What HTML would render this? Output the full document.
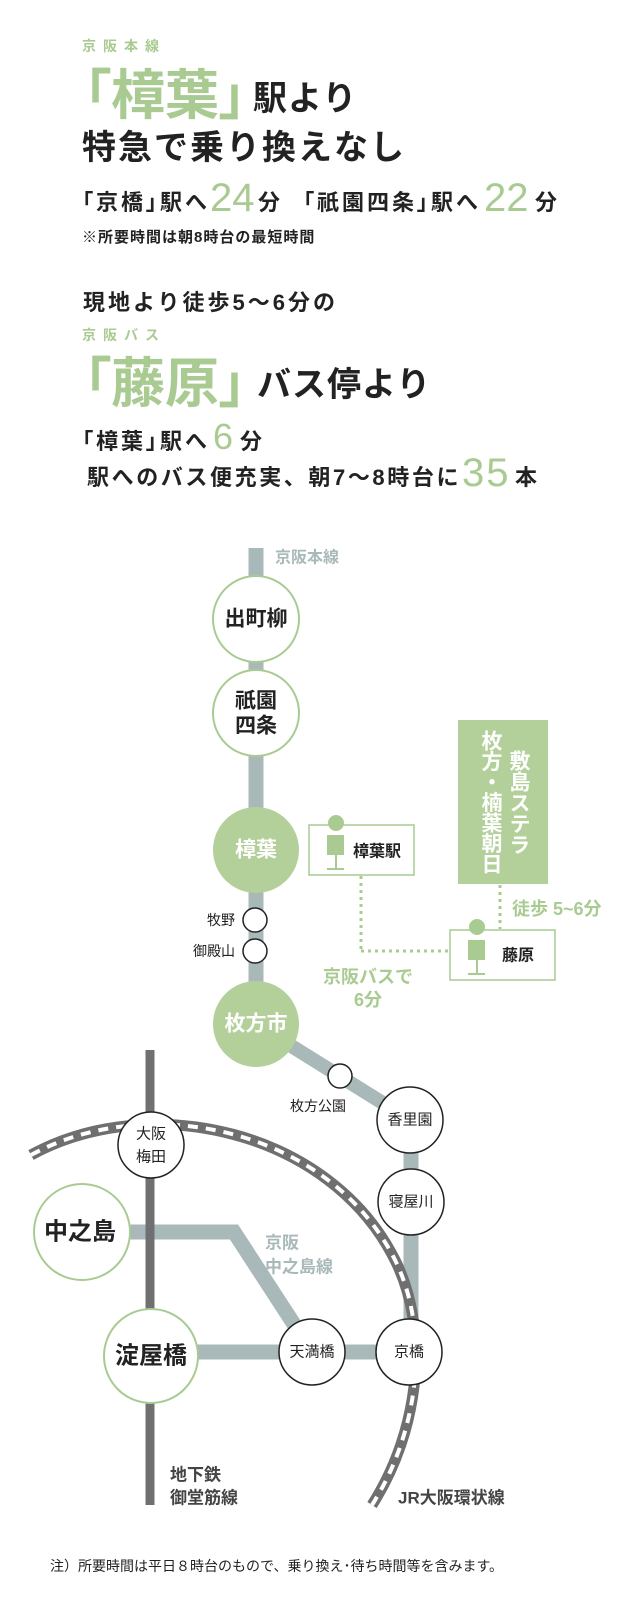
<!DOCTYPE html>
<html><head><meta charset="utf-8">
<style>
html,body{margin:0;padding:0;background:#fff;}
body{width:641px;height:1610px;position:relative;overflow:hidden;font-family:"Liberation Sans","Noto Sans CJK JP",sans-serif;color:#222;}
.a{position:absolute;white-space:nowrap;line-height:1;font-weight:bold;}
.g{color:#a9cb92;}
.p{font-feature-settings:"palt";}
.num{font-family:"Liberation Sans","Noto Sans CJK JP",sans-serif;font-weight:normal;color:#a9cb92;}
svg{position:absolute;left:0;top:0;}
</style></head><body>
<div class="a g" style="left:82px;top:39px;font-size:14px;letter-spacing:7px;">京阪本線</div>
<div class="a g p" style="left:84px;top:64px;font-size:54px;font-family:'Noto Sans CJK JP',sans-serif;">「樟葉」</div>
<div class="a" style="left:253px;top:82px;font-size:34px;letter-spacing:1px;">駅より</div>
<div class="a" style="left:82px;top:131px;font-size:34px;letter-spacing:2px;">特急で乗り換えなし</div>

<div class="a p" style="left:82px;top:192px;font-size:22px;letter-spacing:3px;">「京橋」駅へ</div>
<div class="a num" style="left:210px;top:178px;font-size:40px;">24</div>
<div class="a" style="left:258px;top:192px;font-size:22px;">分</div>
<div class="a p" style="left:303px;top:192px;font-size:22px;letter-spacing:3px;">「祇園四条」駅へ</div>
<div class="a num" style="left:484px;top:178px;font-size:40px;">22</div>
<div class="a" style="left:535px;top:192px;font-size:22px;">分</div>
<div class="a" style="left:82px;top:230px;font-size:15px;letter-spacing:1px;">※所要時間は朝8時台の最短時間</div>

<div class="a" style="left:83px;top:292px;font-size:22px;letter-spacing:3px;">現地より徒歩5〜6分の</div>
<div class="a g" style="left:82px;top:328px;font-size:14px;letter-spacing:7px;">京阪バス</div>
<div class="a g p" style="left:84px;top:352px;font-size:54px;font-family:'Noto Sans CJK JP',sans-serif;">「藤原」</div>
<div class="a" style="left:257px;top:368px;font-size:34px;letter-spacing:1px;">バス停より</div>

<div class="a p" style="left:82px;top:431px;font-size:22px;letter-spacing:3px;">「樟葉」駅へ</div>
<div class="a num" style="left:213px;top:419px;font-size:36px;">6</div>
<div class="a" style="left:240px;top:431px;font-size:22px;">分</div>
<div class="a" style="left:87px;top:467px;font-size:22px;letter-spacing:2.6px;">駅へのバス便充実、朝7〜8時台に</div>
<div class="a num" style="left:462px;top:453px;font-size:40px;letter-spacing:2px;">35</div>
<div class="a" style="left:515px;top:467px;font-size:22px;">本</div>

<svg width="641" height="1610" viewBox="0 0 641 1610" font-family="Liberation Sans, Noto Sans CJK JP, sans-serif">
  <line x1="256" y1="548" x2="256" y2="1024" stroke="#a9b8b8" stroke-width="15"/>
  <line x1="256" y1="1024" x2="410" y2="1120" stroke="#a9b8b8" stroke-width="14"/>
  <line x1="411" y1="1120" x2="411" y2="1352" stroke="#a9b8b8" stroke-width="15"/>
  <polyline points="82,1232 234,1232 312,1352" fill="none" stroke="#a9b8b8" stroke-width="15"/>
  <line x1="151" y1="1352" x2="409" y2="1352" stroke="#a9b8b8" stroke-width="15"/>
  <line x1="150" y1="1050" x2="150" y2="1505" stroke="#707070" stroke-width="9"/>
  <path d="M31,1155 C150,1090 330,1130 395,1260 C430,1330 420,1430 372,1505" fill="none" stroke="#6f6f6f" stroke-width="11"/>
  <path d="M31,1155 C150,1090 330,1130 395,1260 C430,1330 420,1430 372,1505" fill="none" stroke="#fff" stroke-width="4" stroke-dasharray="10 8"/>

  <text x="275" y="558" font-size="16" font-weight="bold" fill="#a9b8b8" dominant-baseline="central">京阪本線</text>

  <circle cx="256" cy="619" r="43" fill="#fff" stroke="#a9cb92" stroke-width="2"/>
  <text x="256" y="619" font-size="21" font-weight="bold" text-anchor="middle" dominant-baseline="central" fill="#222">出町柳</text>
  <circle cx="256" cy="713" r="43" fill="#fff" stroke="#a9cb92" stroke-width="2"/>
  <text x="256" y="701" font-size="21" font-weight="bold" text-anchor="middle" dominant-baseline="central" fill="#222">祇園</text>
  <text x="256" y="726" font-size="21" font-weight="bold" text-anchor="middle" dominant-baseline="central" fill="#222">四条</text>
  <circle cx="256" cy="850" r="43" fill="#b3d09b"/>
  <text x="256" y="850" font-size="21" font-weight="bold" text-anchor="middle" dominant-baseline="central" fill="#fff">樟葉</text>
  <circle cx="255" cy="920" r="12" fill="#fff" stroke="#222" stroke-width="1.5"/>
  <text x="235" y="920" font-size="14" text-anchor="end" dominant-baseline="central" fill="#222">牧野</text>
  <circle cx="255" cy="951" r="12" fill="#fff" stroke="#222" stroke-width="1.5"/>
  <text x="235" y="951" font-size="14" text-anchor="end" dominant-baseline="central" fill="#222">御殿山</text>
  <circle cx="256" cy="1024" r="43" fill="#b3d09b"/>
  <text x="256" y="1024" font-size="21" font-weight="bold" text-anchor="middle" dominant-baseline="central" fill="#fff">枚方市</text>

  <circle cx="340" cy="1076" r="12" fill="#fff" stroke="#222" stroke-width="1.5"/>
  <text x="318" y="1106" font-size="14" text-anchor="middle" dominant-baseline="central" fill="#222">枚方公園</text>
  <circle cx="410" cy="1120" r="33" fill="#fff" stroke="#222" stroke-width="1.5"/>
  <text x="410" y="1120" font-size="15" text-anchor="middle" dominant-baseline="central" fill="#222">香里園</text>
  <circle cx="411" cy="1202" r="33" fill="#fff" stroke="#222" stroke-width="1.5"/>
  <text x="411" y="1202" font-size="15" text-anchor="middle" dominant-baseline="central" fill="#222">寝屋川</text>
  <circle cx="409" cy="1352" r="33" fill="#fff" stroke="#222" stroke-width="1.5"/>
  <text x="409" y="1352" font-size="15" text-anchor="middle" dominant-baseline="central" fill="#222">京橋</text>
  <circle cx="312" cy="1352" r="33" fill="#fff" stroke="#222" stroke-width="1.5"/>
  <text x="312" y="1352" font-size="15" text-anchor="middle" dominant-baseline="central" fill="#222">天満橋</text>
  <circle cx="151" cy="1145" r="33" fill="#fff" stroke="#222" stroke-width="1.5"/>
  <text x="151" y="1134" font-size="15" text-anchor="middle" dominant-baseline="central" fill="#222">大阪</text>
  <text x="151" y="1157" font-size="15" text-anchor="middle" dominant-baseline="central" fill="#222">梅田</text>
  <circle cx="82" cy="1232" r="48" fill="#fff" stroke="#a9cb92" stroke-width="2"/>
  <text x="80" y="1232" font-size="24" font-weight="bold" text-anchor="middle" dominant-baseline="central" fill="#222">中之島</text>
  <circle cx="151" cy="1356" r="47" fill="#fff" stroke="#a9cb92" stroke-width="2"/>
  <text x="151" y="1356" font-size="24" font-weight="bold" text-anchor="middle" dominant-baseline="central" fill="#222">淀屋橋</text>

  <text x="265" y="1243" font-size="17" font-weight="bold" fill="#a9b8b8" dominant-baseline="central">京阪</text>
  <text x="265" y="1267" font-size="17" font-weight="bold" fill="#a9b8b8" dominant-baseline="central">中之島線</text>
  <text x="170" y="1475" font-size="17" font-weight="bold" fill="#444" dominant-baseline="central">地下鉄</text>
  <text x="170" y="1498" font-size="17" font-weight="bold" fill="#444" dominant-baseline="central">御堂筋線</text>
  <text x="398" y="1498" font-size="17" font-weight="bold" fill="#444" dominant-baseline="central">JR大阪環状線</text>

  <line x1="361" y1="876" x2="361" y2="951" stroke="#a9cb92" stroke-width="3" stroke-dasharray="3 4"/>
  <line x1="361" y1="951" x2="449" y2="951" stroke="#a9cb92" stroke-width="3" stroke-dasharray="3 4"/>
  <line x1="500" y1="885" x2="500" y2="929" stroke="#a9cb92" stroke-width="3" stroke-dasharray="3 4"/>
  <rect x="309" y="825" width="105" height="50" fill="#fff" stroke="#a9cb92" stroke-width="1.5"/>
  <circle cx="336" cy="823" r="8" fill="#a9cb92"/>
  <rect x="327" y="835" width="17" height="20" fill="#a9cb92"/>
  <line x1="336" y1="855" x2="336" y2="869" stroke="#a9cb92" stroke-width="2"/>
  <line x1="327" y1="869" x2="344" y2="869" stroke="#a9cb92" stroke-width="2"/>
  <text x="353" y="852" font-size="16" font-weight="bold" fill="#222" dominant-baseline="central">樟葉駅</text>

  <rect x="450" y="930" width="105" height="50" fill="#fff" stroke="#a9cb92" stroke-width="1.5"/>
  <circle cx="477" cy="927" r="8" fill="#a9cb92"/>
  <rect x="468" y="940" width="17" height="20" fill="#a9cb92"/>
  <line x1="477" y1="960" x2="477" y2="974" stroke="#a9cb92" stroke-width="2"/>
  <line x1="468" y1="974" x2="485" y2="974" stroke="#a9cb92" stroke-width="2"/>
  <text x="502" y="956" font-size="16" font-weight="bold" fill="#222" dominant-baseline="central">藤原</text>

  <text x="368" y="977" font-size="18" font-weight="bold" fill="#a9cb92" text-anchor="middle" dominant-baseline="central">京阪バスで</text>
  <text x="368" y="1000" font-size="18" font-weight="bold" fill="#a9cb92" text-anchor="middle" dominant-baseline="central">6分</text>
  <text x="512" y="909" font-size="18" font-weight="bold" fill="#a9cb92" dominant-baseline="central">徒歩 5~6分</text>

  <rect x="458" y="720" width="90" height="164" fill="#b3d09b"/>
</svg>
<div class="a" style="left:508px;top:750px;font-size:21px;color:#fff;writing-mode:vertical-rl;letter-spacing:0;">敷島ステラ</div>
<div class="a" style="left:480px;top:730px;font-size:21px;color:#fff;writing-mode:vertical-rl;letter-spacing:-0.5px;">枚方・楠葉朝日</div>

<div class="a" style="left:50px;top:1559px;font-size:14px;font-weight:normal;color:#222;">注）所要時間は平日８時台のもので、乗り換え･待ち時間等を含みます。</div>
</body></html>
